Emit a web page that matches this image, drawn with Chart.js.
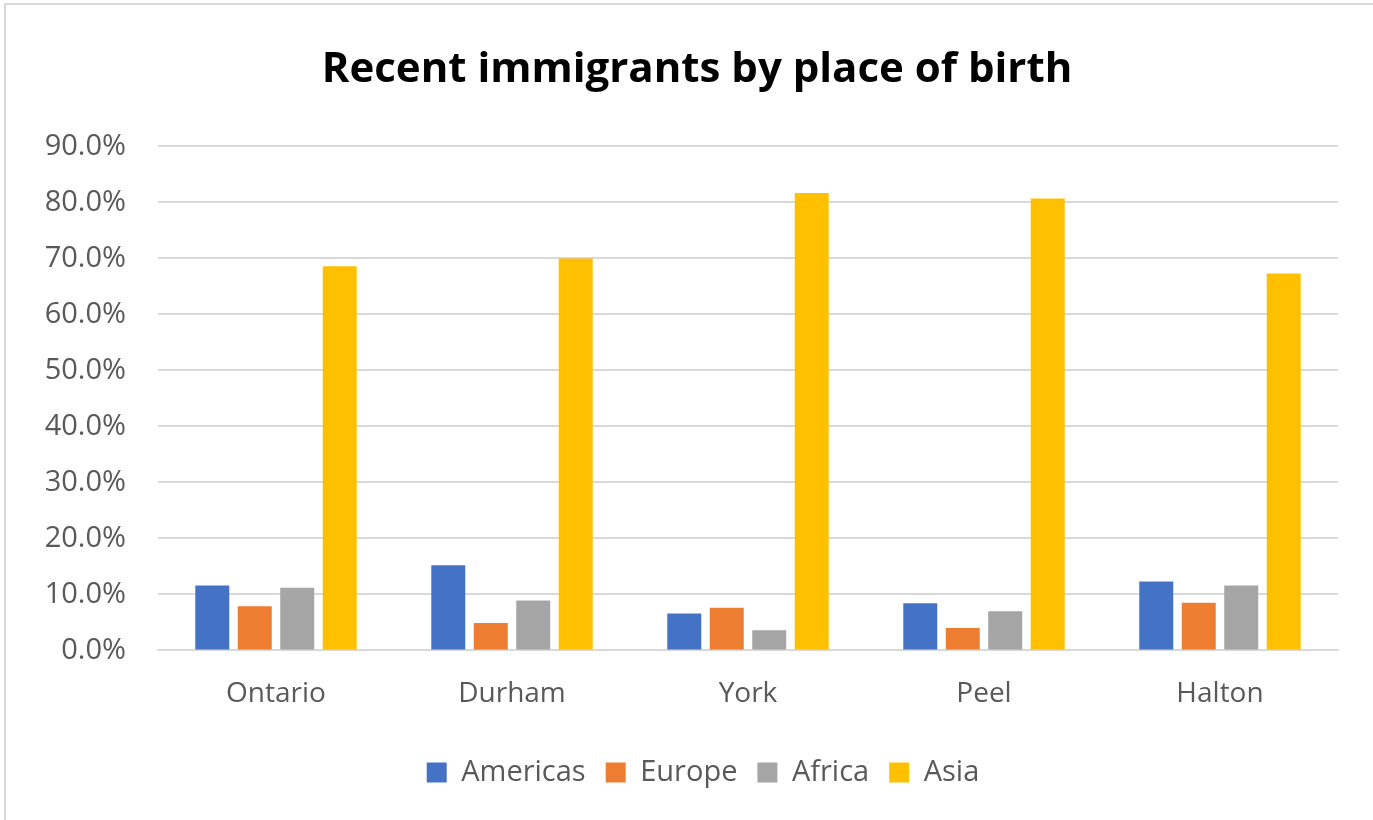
<!DOCTYPE html>
<html>
<head>
<meta charset="utf-8">
<script src="https://cdn.jsdelivr.net/npm/chart.js@4/dist/chart.umd.min.js"></script>
<style>
  body { margin: 0; background: #fff; }
  #wrap { position: relative; width: 1373px; height: 820px; }
  #frame { position: absolute; left: 4px; top: 3px; right: 0; bottom: 0;
           border-left: 2px solid #d9d9d9; border-top: 2px solid #d9d9d9; pointer-events: none; }
</style>
</head>
<body>
<div id="wrap">
  <canvas id="chart" width="1373" height="820"></canvas>
  <div id="frame"></div>
</div>
<script>
const regions = ['Ontario', 'Durham', 'York', 'Peel', 'Halton'];
const americas = [11.6, 15.2, 6.6, 8.4, 12.3];
const europe = [7.9, 4.9, 7.6, 4.0, 8.5];
const africa = [11.2, 8.9, 3.6, 7.0, 11.6];
const asia = [68.6, 70.0, 81.7, 80.7, 67.3];

const font = "'Open Sans', 'Noto Sans', sans-serif";
const grey = '#595959';
const gridColor = '#d9d9d9';

const ctx = document.getElementById('chart').getContext('2d');

function series(label, data, color) {
    return {
        label: label,
        data: data,
        backgroundColor: color,
        borderWidth: 0,
        barPercentage: 0.8,
        categoryPercentage: 0.72
    };
}

// title and legend are centred on the whole frame, not only on the padded area
const recenter = {
    id: 'recenter',
    afterLayout(chart) {
        chart.titleBlock.left = 21;
        chart.titleBlock.right = 1373;
        chart.legend.left = 33;
        chart.legend.right = 1373;
    }
};

new Chart(ctx, {
    type: 'bar',
    data: {
        labels: regions,
        datasets: [
            series('Americas', americas, '#4472C4'),
            series('Europe', europe, '#ED7D31'),
            series('Africa', africa, '#A5A5A5'),
            series('Asia', asia, '#FFC000')
        ]
    },
    plugins: [recenter],
    options: {
        responsive: false,
        animation: false,
        layout: { padding: { left: 0, right: 35, top: 0, bottom: 23 } },
        plugins: {
            title: {
                display: true,
                text: 'Recent immigrants by place of birth',
                color: '#000000',
                font: { family: font, size: 42, weight: 'bold' },
                padding: { top: 45, bottom: 51 }
            },
            legend: {
                position: 'bottom',
                labels: {
                    color: grey,
                    font: { family: font, size: 29 },
                    boxWidth: 20,
                    boxHeight: 20,
                    padding: 20
                }
            },
            tooltip: { enabled: false }
        },
        scales: {
            x: {
                grid: { display: false, drawTicks: false },
                border: { display: true, color: gridColor, width: 2 },
                ticks: { color: grey, font: { family: font, size: 28 }, padding: 27 }
            },
            y: {
                min: 0,
                max: 90,
                afterFit: (scale) => { scale.width = 158; },
                grid: { color: gridColor, lineWidth: 2, drawTicks: false },
                border: { display: false },
                ticks: {
                    stepSize: 10,
                    color: grey,
                    font: { family: font, size: 29 },
                    padding: 32,
                    callback: (v) => v.toFixed(1) + '%'
                }
            }
        }
    }
});
</script>
</body>
</html>
